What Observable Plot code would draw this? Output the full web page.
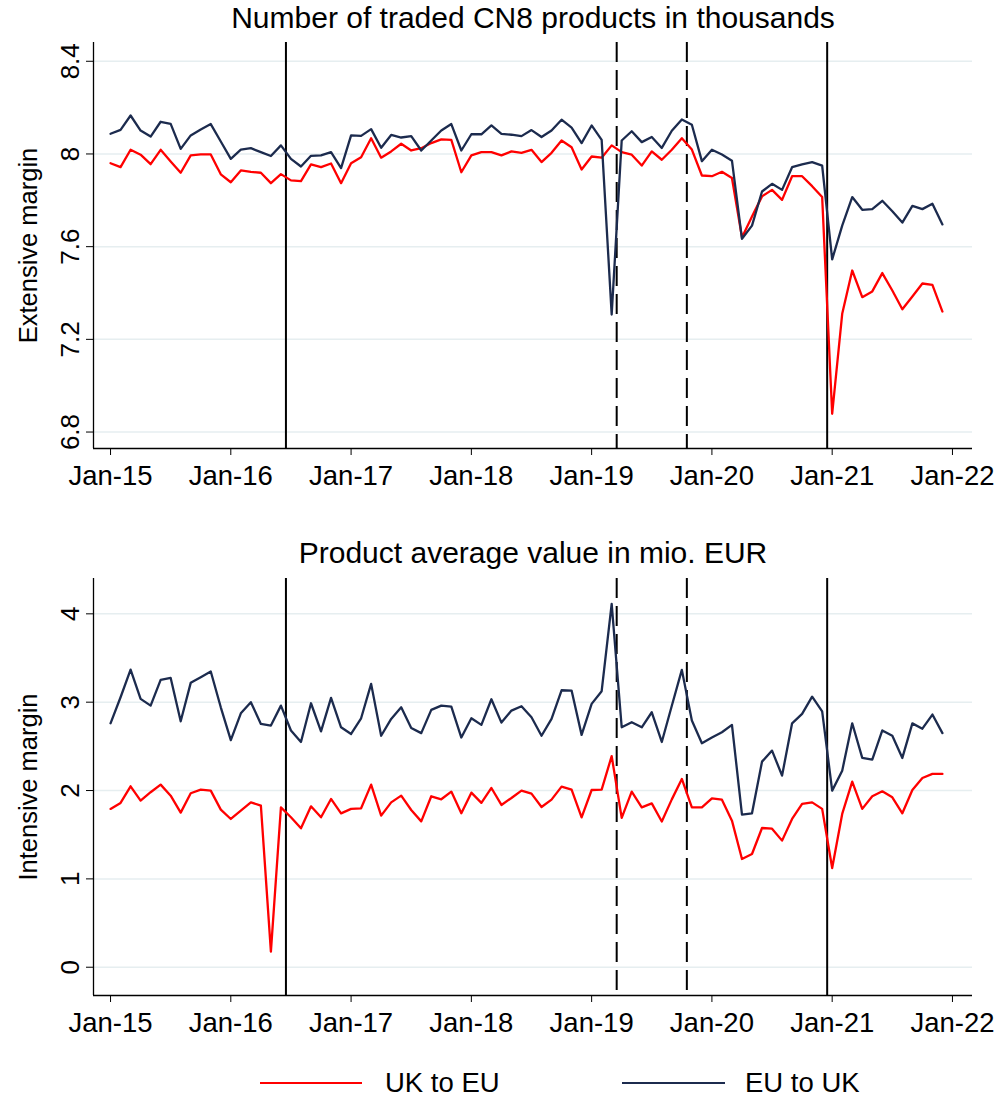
<!DOCTYPE html>
<html><head><meta charset="utf-8">
<script src="https://cdn.jsdelivr.net/npm/d3@7"></script>
<script src="https://cdn.jsdelivr.net/npm/@observablehq/plot@0.6"></script>
<style>
body{margin:0;background:#fff;font-family:"Liberation Sans",Arial,sans-serif;}
#root{position:relative;width:1000px;height:1099px;overflow:hidden;background:#fff;}
.panel{position:absolute;left:0;}
.leg-line{position:absolute;height:0;border-top:2.4px solid;}
.leg-text{position:absolute;font-size:27.5px;line-height:30px;color:#000;white-space:nowrap;}
</style></head><body><div id="root"></div>
<script>
// ---- categories / ticks ----
const xTickPos = [0, 12, 24, 36, 48, 60, 72, 84];
const xTickLabels = ["Jan-15","Jan-16","Jan-17","Jan-18","Jan-19","Jan-20","Jan-21","Jan-22"];
const eventsSolid = [17.5, 71.5];
const eventsDashed = [50.5, 57.5];

const extTicks = [6.8, 7.2, 7.6, 8, 8.4];
const extTickLabels = ["6.8","7.2","7.6","8","8.4"];
const intTicks = [0, 1, 2, 3, 4];
const intTickLabels = ["0","1","2","3","4"];

const seriesNames = ["UK to EU", "EU to UK"];
const seriesColors = ["#ff0000", "#1c2b4e"];

// ---- Extensive margin (thousands of CN8 products), Jan-15 .. Dec-21 ----
const extUKtoEU = [7.960,7.943,8.018,7.997,7.956,8.018,7.968,7.919,7.994,7.998,7.998,7.912,
  7.878,7.929,7.923,7.919,7.874,7.913,7.886,7.883,7.955,7.943,7.959,7.874,
  7.960,7.986,8.068,7.984,8.011,8.044,8.015,8.025,8.047,8.063,8.061,7.921,
  7.994,8.008,8.008,7.994,8.011,8.005,8.018,7.965,8.005,8.058,8.029,7.933,
  7.989,7.984,8.037,8.008,7.997,7.950,8.011,7.975,8.018,8.068,8.019,7.907,
  7.904,7.923,7.896,7.640,7.730,7.817,7.845,7.802,7.904,7.904,7.861,7.814,
  6.879,7.310,7.497,7.382,7.407,7.486,7.411,7.330,7.385,7.441,7.435,7.320];
const extEUtoUK = [8.087,8.104,8.166,8.101,8.075,8.139,8.130,8.022,8.080,8.106,8.129,8.054,
  7.979,8.019,8.025,8.008,7.991,8.037,7.979,7.946,7.992,7.994,8.008,7.939,
  8.080,8.078,8.107,8.027,8.082,8.071,8.077,8.015,8.058,8.101,8.129,8.015,
  8.085,8.085,8.123,8.087,8.083,8.077,8.103,8.073,8.101,8.148,8.114,8.047,
  8.123,8.061,7.307,8.058,8.098,8.051,8.073,8.026,8.100,8.149,8.126,7.969,
  8.018,7.998,7.971,7.634,7.691,7.838,7.871,7.845,7.943,7.955,7.965,7.950,
  7.545,7.691,7.814,7.759,7.762,7.798,7.753,7.704,7.776,7.762,7.785,7.696];

// ---- Intensive margin (product average value, mio. EUR) ----
const intUKtoEU = [1.792,1.860,2.048,1.886,1.981,2.067,1.942,1.750,1.969,2.010,1.999,1.784,
  1.678,1.772,1.866,1.829,0.176,1.810,1.697,1.572,1.821,1.697,1.905,1.742,
  1.792,1.799,2.067,1.716,1.866,1.942,1.780,1.651,1.935,1.901,1.988,1.742,
  1.976,1.860,2.029,1.837,1.916,1.999,1.965,1.814,1.897,2.044,2.010,1.697,
  2.006,2.010,2.390,1.690,1.988,1.810,1.855,1.650,1.900,2.131,1.810,1.810,
  1.912,1.897,1.659,1.225,1.282,1.576,1.568,1.433,1.678,1.848,1.866,1.792,
  1.123,1.735,2.101,1.792,1.935,1.991,1.923,1.742,2.006,2.142,2.188,2.188];
const intEUtoUK = [2.761,3.056,3.369,3.037,2.961,3.253,3.275,2.784,3.219,3.282,3.347,2.942,
  2.570,2.874,3.000,2.754,2.735,2.961,2.680,2.550,2.988,2.670,3.049,2.716,
  2.640,2.818,3.207,2.620,2.811,2.942,2.709,2.650,2.913,2.961,2.950,2.600,
  2.818,2.743,3.033,2.769,2.905,2.954,2.829,2.620,2.811,3.135,3.131,2.630,
  2.981,3.124,4.113,2.716,2.773,2.716,2.886,2.550,2.960,3.366,2.792,2.535,
  2.600,2.660,2.743,1.727,1.742,2.327,2.452,2.169,2.761,2.867,3.063,2.897,
  1.999,2.225,2.761,2.369,2.350,2.680,2.620,2.369,2.760,2.700,2.860,2.650];

const FONT = '"Liberation Sans", Arial, sans-serif';
const xDomain = [-1.7, 86];

function panel(o) {
  const uk = o.uk.map((v, i) => ({i, v}));
  const eu = o.eu.map((v, i) => ({i, v}));
  return Plot.plot({
    width: 1000, height: o.height,
    marginLeft: 93, marginRight: 28, marginTop: o.marginTop, marginBottom: o.marginBottom,
    style: {fontFamily: FONT, fontSize: "27.5px", color: "#000", background: "#fff", overflow: "visible"},
    x: {domain: xDomain},
    y: {domain: o.yDomain},
    marks: [
      Plot.gridY(o.yTicks, {stroke: "#e6eef0", strokeOpacity: 1, strokeWidth: 1.5}),
      Plot.ruleX(eventsSolid, {x: d => d, stroke: "#000", strokeWidth: 2}),
      Plot.ruleX(eventsDashed, {x: d => d, stroke: "#000", strokeWidth: 2, strokeDasharray: "20,8"}),
      Plot.line(uk, {x: "i", y: "v", stroke: seriesColors[0], strokeWidth: 2.3}),
      Plot.line(eu, {x: "i", y: "v", stroke: seriesColors[1], strokeWidth: 2.3}),
      Plot.ruleX([xDomain[0]], {stroke: "#000", strokeWidth: 1.3}),
      Plot.ruleY([o.yDomain[0]], {stroke: "#000", strokeWidth: 1.3}),
      Plot.axisX({ticks: xTickPos, tickSize: 7, tickPadding: 10, label: null, fontSize: 27.5,
        tickFormat: d => xTickLabels[xTickPos.indexOf(d)]}),
      Plot.axisY({ticks: o.yTicks, tickSize: 7, label: null, tickFormat: () => ""}),
      Plot.text(o.yTicks, {y: d => d, text: (d, i) => o.yTickLabels[i], frameAnchor: "left",
        dx: -23, rotate: -90, textAnchor: "middle", lineAnchor: "middle", fontSize: 26}),
      Plot.text([o.yTitle], {text: d => d, frameAnchor: "left", dx: -65, rotate: -90,
        textAnchor: "middle", lineAnchor: "middle", fontSize: 25.5}),
      Plot.text([o.title], {text: d => d, frameAnchor: "top", dy: o.titleDy,
        textAnchor: "middle", lineAnchor: "middle", fontSize: 30})
    ]
  });
}

const root = document.getElementById("root");

const p1 = panel({uk: extUKtoEU, eu: extEUtoUK, yDomain: [6.729, 8.481], yTicks: extTicks,
  yTickLabels: extTickLabels, title: "Number of traded CN8 products in thousands",
  yTitle: "Extensive margin", height: 500, marginTop: 42, marginBottom: 52, titleDy: -24});
p1.classList.add("panel"); p1.style.top = "0px";
root.appendChild(p1);

const p2 = panel({uk: intUKtoEU, eu: intEUtoUK, yDomain: [-0.32, 4.40], yTicks: intTicks,
  yTickLabels: intTickLabels, title: "Product average value in mio. EUR",
  yTitle: "Intensive margin", height: 530, marginTop: 58, marginBottom: 55, titleDy: -25});
p2.classList.add("panel"); p2.style.top = "520px";
root.appendChild(p2);

// legend
const legItems = [
  {line: [260, 362], text: 385},
  {line: [622, 725], text: 745}
];
legItems.forEach((it, k) => {
  const ln = document.createElement("div");
  ln.className = "leg-line";
  ln.style.left = it.line[0] + "px";
  ln.style.width = (it.line[1] - it.line[0]) + "px";
  ln.style.top = "1082px";
  ln.style.borderTopColor = seriesColors[k];
  root.appendChild(ln);
  const tx = document.createElement("div");
  tx.className = "leg-text";
  tx.style.left = it.text + "px";
  tx.style.top = "1068px";
  tx.textContent = seriesNames[k];
  root.appendChild(tx);
});
</script></body></html>
